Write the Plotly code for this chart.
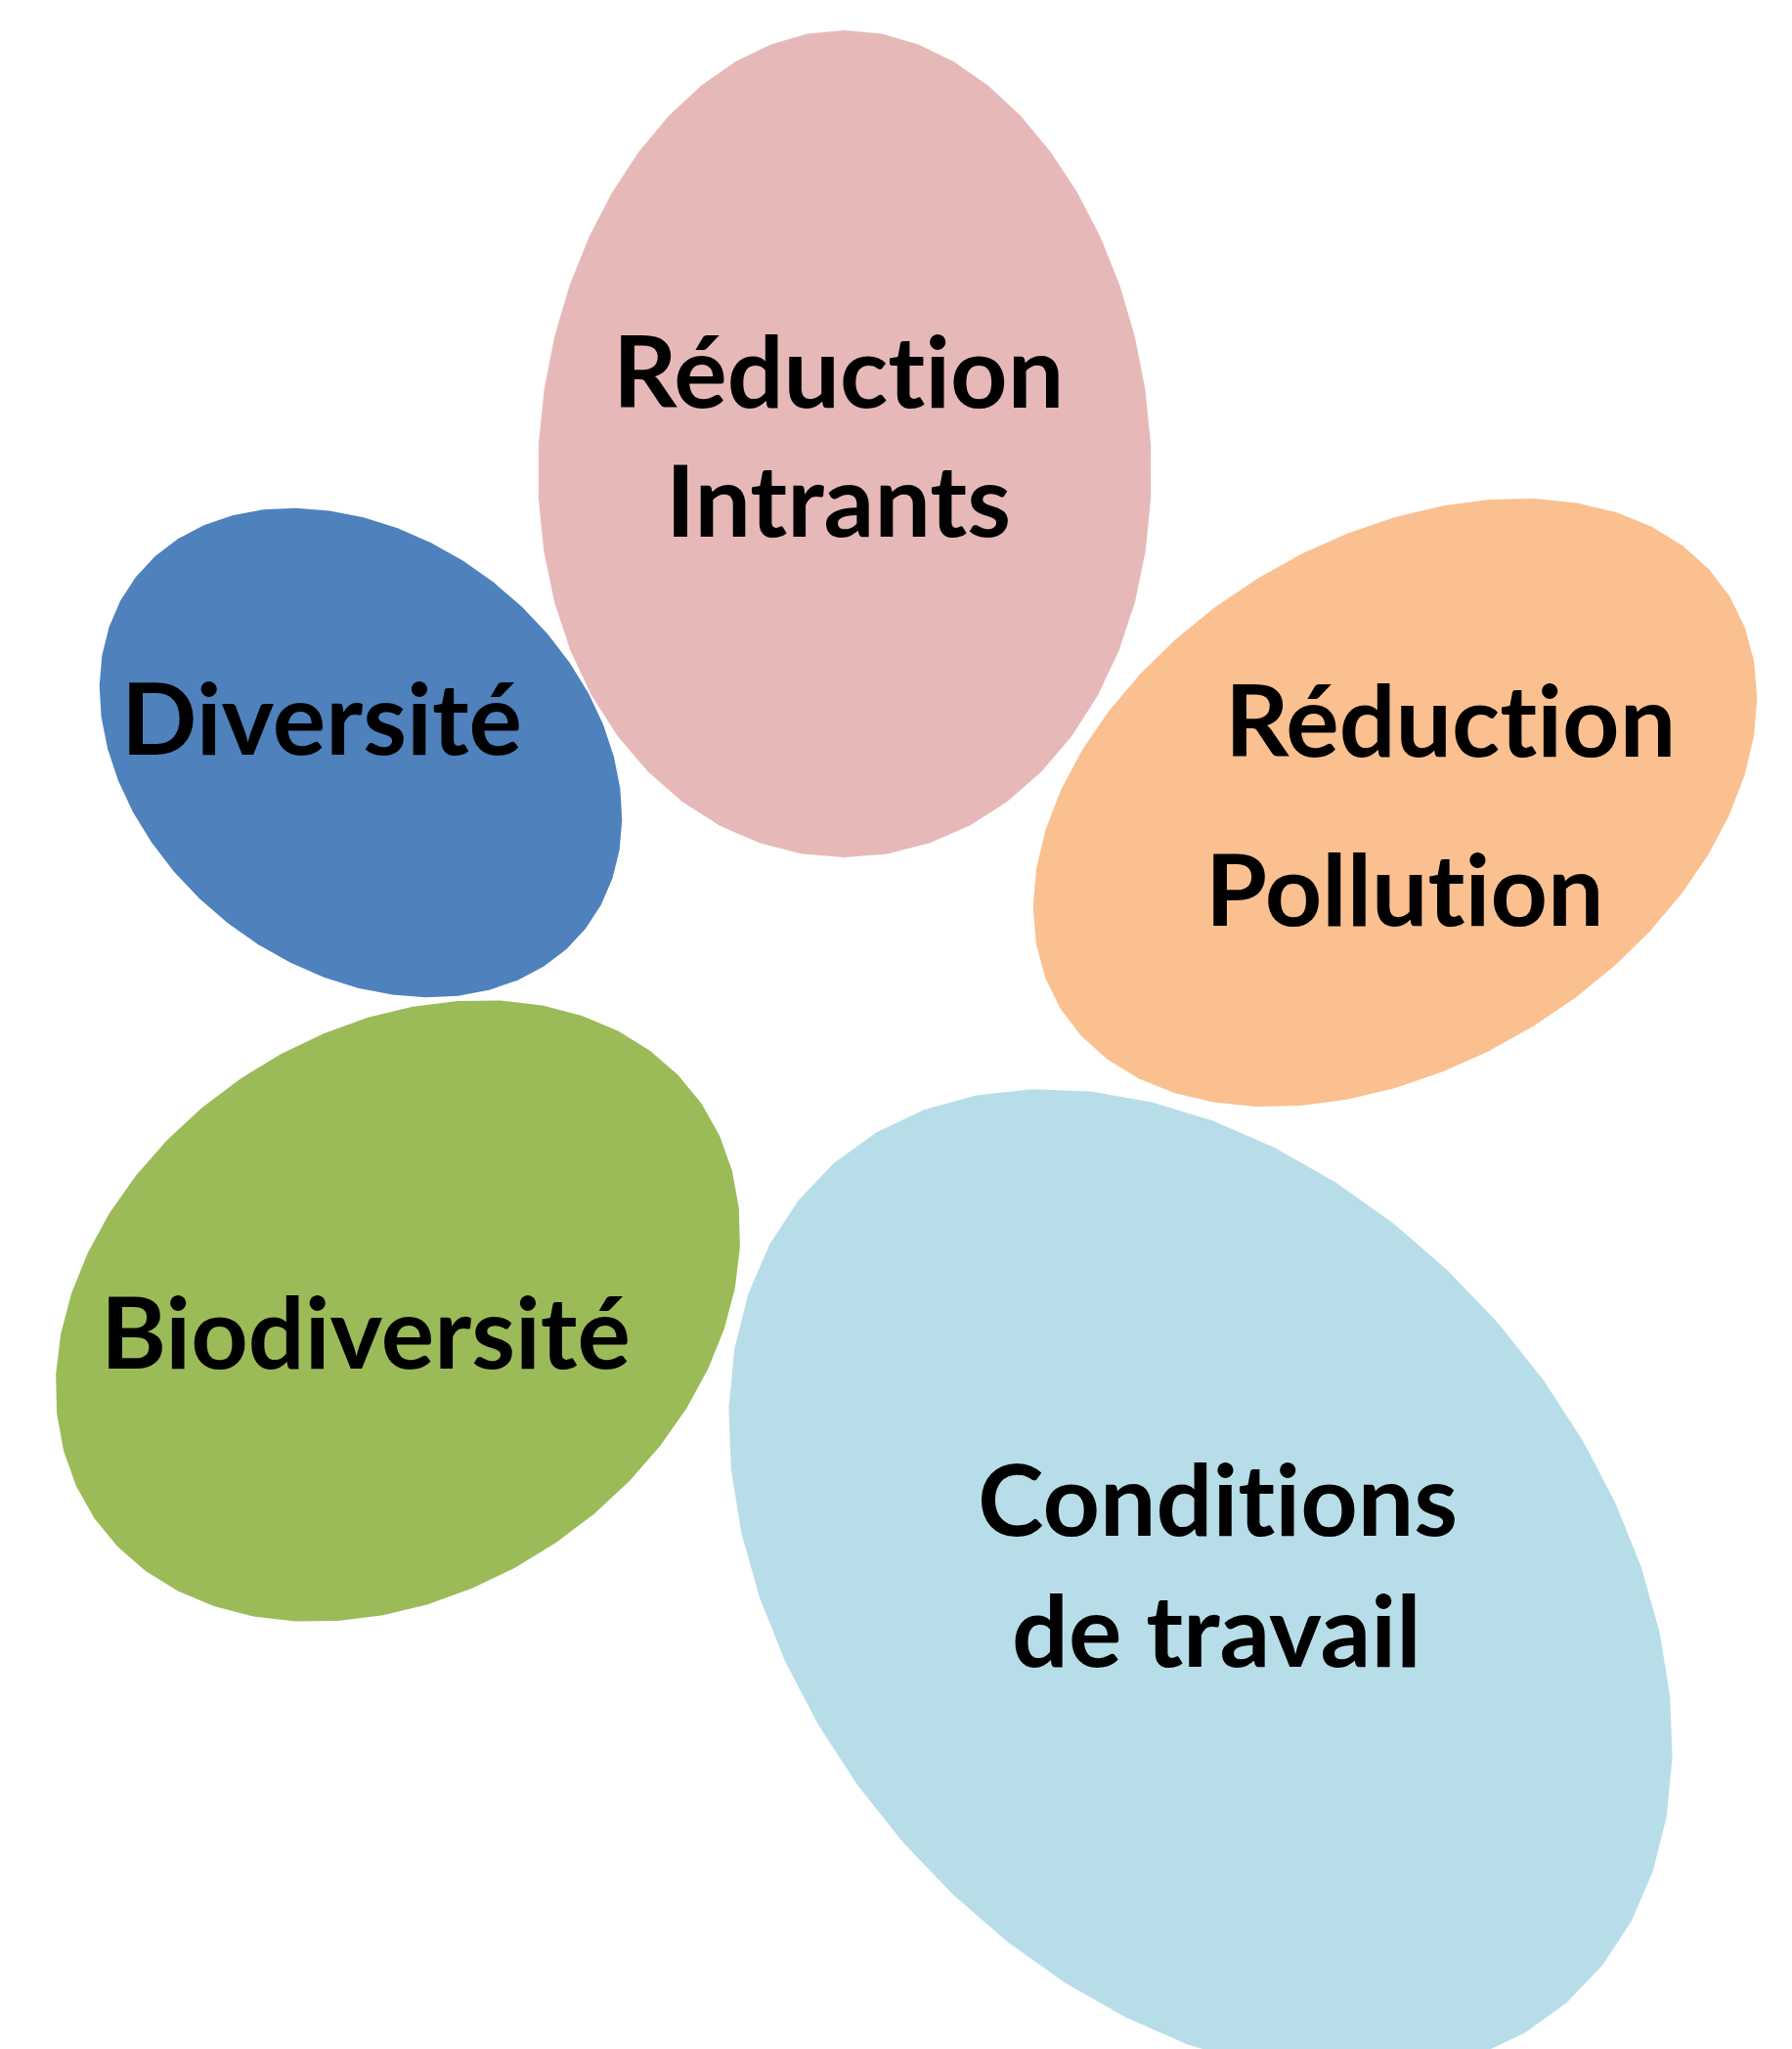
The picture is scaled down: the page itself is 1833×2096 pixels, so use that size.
import numpy as np
import plotly.graph_objects as go

# Blob data (pixel space of the 1833x2096 picture, y downwards)
blob_names = ["Réduction Intrants", "Diversité", "Réduction Pollution", "Biodiversité", "Conditions de travail"]
blob_colors = ["#E6B9B8", "#4F81BD", "#FAC090", "#9BBB59", "#B7DEE8"]
blob_cx = [856, 361, 1419, 399, 1220]
blob_cy = [446, 762, 813, 1333, 1611]
blob_a = [313, 292, 402, 376, 570]
blob_b = [423, 221, 269, 287, 404]
blob_angle = [0, 38, -31.6, -34.3, 48.9]
blob_egg = [0.07, 0.0, 0.0, 0.0, 0.0]   # narrowing of the top of the shape

# Labels: one entry per text line
ZWNJ = "\u200c"  # keeps "t" and "i" apart (no ligature)
label_text = ["Réduct" + ZWNJ + "ion", "Intrants", "Diversité", "Réduct" + ZWNJ + "ion",
              "Pollut" + ZWNJ + "ion", "Biodiversité", "Condit" + ZWNJ + "ions", "de travail"]
label_x = [849, 849, 321, 1475, 1429, 366, 1237, 1236]
label_y = [369, 501, 724, 726, 899, 1352, 1523, 1657]

W, H = 1833, 2096
N_VERT = 48

fig = go.Figure()
t = np.linspace(0, 2 * np.pi, N_VERT, endpoint=False)
for name, col, cx, cy, a, b, ang, egg in zip(blob_names, blob_colors, blob_cx, blob_cy,
                                              blob_a, blob_b, blob_angle, blob_egg):
    th = np.deg2rad(ang)
    ex = a * np.cos(t) * (1 + egg * np.sin(t))
    ey = b * np.sin(t)
    xs = cx + ex * np.cos(th) - ey * np.sin(th)
    ys = cy + ex * np.sin(th) + ey * np.cos(th)
    fig.add_trace(go.Scatter(
        x=np.append(xs, xs[0]), y=np.append(ys, ys[0]),
        mode="lines", fill="toself", fillcolor=col,
        line=dict(width=0, color=col), name=name, hoverinfo="name",
        showlegend=False,
    ))

for txt, x, y in zip(label_text, label_x, label_y):
    fig.add_annotation(
        x=x, y=y, text=txt, showarrow=False, xanchor="center", yanchor="middle",
        font=dict(family="Lato", size=102, color="#000000", weight="bold"),
    )

fig.update_xaxes(range=[0, W], visible=False, fixedrange=True)
fig.update_yaxes(range=[H, 0], visible=False, fixedrange=True)
fig.update_layout(
    width=W, height=H, margin=dict(l=0, r=0, t=0, b=0),
    paper_bgcolor="white", plot_bgcolor="white",
)
fig.write_html("out.html", config={"displayModeBar": False})
